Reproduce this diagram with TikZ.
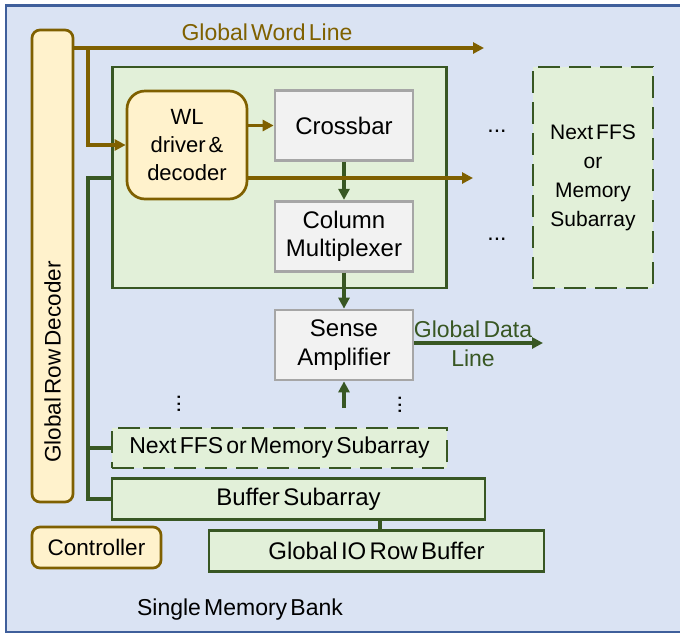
\documentclass[tikz,border=0pt]{standalone}
\usepackage{fontspec}
\setmainfont{Liberation Sans}[WordSpace=0.5]
\usetikzlibrary{arrows.meta, positioning}

\definecolor{bankfill}{HTML}{DAE3F3}
\definecolor{bankline}{HTML}{3F5F9B}
\definecolor{gold}{HTML}{7F6000}
\definecolor{goldfill}{HTML}{FFF2CC}
\definecolor{leaf}{HTML}{385723}
\definecolor{leaffill}{HTML}{E2F0D9}
\definecolor{greyline}{HTML}{A6A6A6}
\definecolor{greyfill}{HTML}{F2F2F2}

\tikzset{
  ctrl/.style={draw=gold, fill=goldfill, line width=2.7pt, rounded corners=8pt, inner sep=0pt, align=center,
               font=\fontsize{22.5}{28}\selectfont},
  unit/.style={draw=greyline, fill=greyfill, line width=2.7pt, inner sep=0pt, align=center,
               minimum width=138pt, minimum height=70pt, font=\fontsize{24}{28.5}\selectfont},
  subarray/.style={draw=leaf, fill=leaffill, line width=2.7pt, inner sep=0pt, align=center,
               font=\fontsize{24}{29}\selectfont},
  nextarray/.style={subarray, dash pattern=on 22pt off 9pt},
  wl/.style={draw=gold, line width=3.5pt},
  bus/.style={draw=leaf, line width=3.2pt},
}

\begin{document}
\begin{tikzpicture}[x=1pt, y=-1pt, >={Triangle[length=11pt, width=11pt]},
    font=\fontsize{23}{29}\selectfont]
   \clip (0,0) rectangle (680,633);
   % memory bank
   \draw[draw=bankline, fill=bankfill, line width=2.5pt] (6,5.5) rectangle (700,632);
   \node[anchor=base] (bank) at (240,615) {Single Memory Bank};

   % decoder and controller
   \node[ctrl, minimum width=41pt, minimum height=472pt] (grd) at (52.5,266) {};
   \node[rotate=90, font=\fontsize{22.5}{28}\selectfont] (grdtext) at (52.5,362) {Global Row Decoder};
   \node[ctrl, minimum width=129pt, minimum height=41pt] (ctl) at (96.5,547.5) {Controller};

   % one FFS subarray
   \node[subarray, minimum width=334pt, minimum height=221pt] (ffs) at (279.5,177.5) {};
   \node[ctrl, rounded corners=18pt, minimum width=120pt, minimum height=108pt,
         font=\fontsize{22}{28}\selectfont] (wldrv) at (187,145) {WL\\driver \&\\decoder};
   \node[unit] (xbar) at (344,125.5) {Crossbar};
   \node[unit] (colmux) [below=38pt of xbar] {Column\\Multiplexer};
   \node[unit] (sa) at (344,345) {Sense\\Amplifier};

   % neighbours
   \node[nextarray, minimum width=120pt, minimum height=221pt,
         font=\fontsize{21}{29}\selectfont] (nextffs) at (593,177.5)
      {Next FFS\\or\\Memory\\Subarray};
   \node[nextarray, minimum width=335pt, minimum height=40pt,
         font=\fontsize{23}{29}\selectfont] (nextsub) at (279.5,448)
      {Next FFS or Memory Subarray};
   \node[subarray, minimum width=373pt, minimum height=41pt] (bufsub) at (298.5,499) {Buffer Subarray};
   \node[subarray, minimum width=335pt, minimum height=41pt] (iobuf) at (376.5,551) {Global IO Row Buffer};

   % dots
   \node[anchor=base] (hd1) at (497,132) {...};
   \node[anchor=base] (hd2) at (497,240) {...};
   \node[rotate=90, anchor=base] (vd1) at (180,404) {...};
   \node[rotate=90, anchor=base] (vd2) at (401,405) {...};

   % free ends
   \coordinate (gwlend) at (484,48);
   \coordinate (tap) at (88,48);
   \coordinate (wlout) at (473,178);
   \coordinate (busx) at (88,178);
   \coordinate (gdlend) at (543,343);
   \coordinate (saup) at (344,408);

   % data path
   \path[->]
    (xbar) edge[bus] (colmux)
    (colmux) edge[bus] (sa)
    (saup) edge[bus] (sa);
   \draw[bus, ->] (sa.east |- gdlend) -- (gdlend);
   \node[text=leaf, align=center] (gdl) at (473,343.5) {Global Data\\Line};
   \draw[bus] (ffs.west |- busx) -- (busx) |- (bufsub.west);
   \draw[bus] (busx |- nextsub) -- (nextsub.west);
   \draw[bus] (bufsub.south -| 380,0) -- (iobuf.north -| 380,0);

   % word lines
   \draw[wl, ->] (grd.east |- gwlend) -- (gwlend);
   \node[text=gold, anchor=base] (gwl) at (267,40) {Global Word Line};
   \draw[wl, ->] (tap) |- (wldrv.west);
   \draw[wl, ->] (wldrv.east |- xbar) -- (xbar.west);
   \draw[wl, ->] (wldrv.east |- wlout) -- (wlout);
\end{tikzpicture}
\end{document}
